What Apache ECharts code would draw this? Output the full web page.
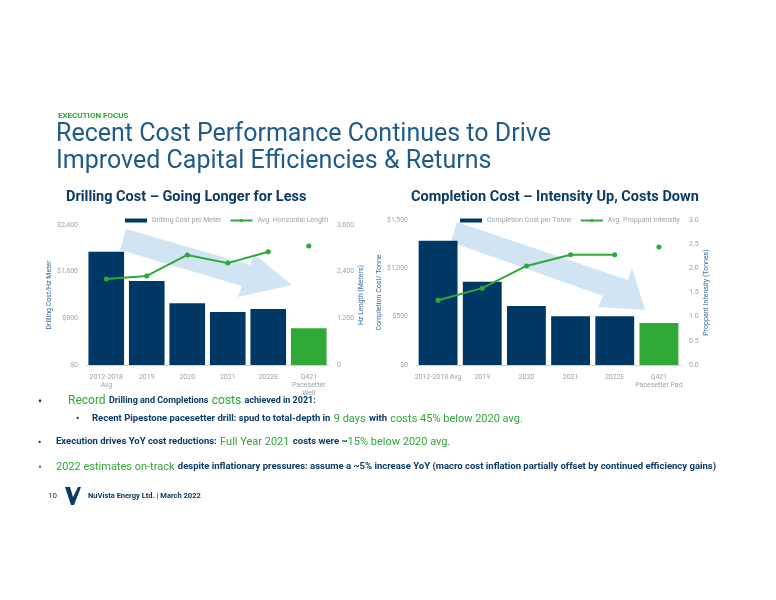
<!DOCTYPE html>
<html><head><meta charset="utf-8">
<script src="https://cdn.jsdelivr.net/npm/echarts@6/dist/echarts.min.js"></script>
<style>html,body{margin:0;padding:0;background:#fff}#c{width:776px;height:600px}</style>
</head><body><div id="c"></div>
<script>
const drillCats = ['2012-2018\nAvg','2019','2020','2021','2022E','Q421\nPacesetter\nWell'];
const drillCost = [1940,1440,1060,910,960,630];
const hzLength = [2210,2290,2830,2620,2910,null];
const hzPacesetter = [null,null,null,null,null,3060];
const compCats = ['2012-2018 Avg','2019','2020','2021','2022E','Q421\nPacesetter Pad'];
const compCost = [1285,860,610,505,505,435];
const proppant = [1.34,1.59,2.05,2.28,2.28,null];
const propPacesetter = [null,null,null,null,null,2.44];

const navy='#003865', green='#2ea836', grey='#9aa3ad';
function barData(arr){return arr.map((v,i)=>({value:v,itemStyle:{color:i===arr.length-1?green:navy}}));}
const axisLbl={color:grey,fontSize:7,fontFamily:'Roboto'};
const rich={g:{fill:green,font:'11px Roboto'},b:{fill:'#0b3a66',font:'bold 9.5px Roboto'}};
const chart=echarts.init(document.getElementById('c'));
chart.setOption({
  animation:false,
  textStyle:{fontFamily:'Roboto'},
  legend:[
    {left:120,top:212,itemWidth:22,itemHeight:4,itemGap:8,textStyle:{color:grey,fontSize:7},data:[{name:'Drilling Cost per Meter',icon:'rect'},{name:'Avg. Horizontal Length'}]},
    {left:455,top:212,itemWidth:22,itemHeight:4,itemGap:8,textStyle:{color:grey,fontSize:7},data:[{name:'Completion Cost per Tonne',icon:'rect'},{name:'Avg. Proppant Intensity'}]}
  ],
  grid:[{left:86,top:225,width:243,height:140},{left:416,top:220,width:265,height:145}],
  xAxis:[
    {gridIndex:0,type:'category',data:drillCats,axisTick:{show:false},axisLine:{lineStyle:{color:'#d0d5da'}},axisLabel:Object.assign({interval:0,lineHeight:8},axisLbl)},
    {gridIndex:1,type:'category',data:compCats,axisTick:{show:false},axisLine:{lineStyle:{color:'#d0d5da'}},axisLabel:Object.assign({interval:0,lineHeight:8},axisLbl)}
  ],
  yAxis:[
    {gridIndex:0,min:0,max:2400,interval:800,splitLine:{show:false},axisLabel:Object.assign({formatter:v=>'$'+v.toLocaleString('en-US')},axisLbl),name:'Drilling Cost/Hz Meter',nameLocation:'middle',nameGap:30,nameTextStyle:{color:'#3a6a9a',fontSize:7}},
    {gridIndex:0,position:'right',min:0,max:3600,interval:1200,splitLine:{show:false},axisLabel:Object.assign({formatter:v=>v.toLocaleString('en-US')},axisLbl),name:'Hz Length (Meters)',nameLocation:'middle',nameGap:28,nameRotate:90,nameTextStyle:{color:'#3a6a9a',fontSize:7}},
    {gridIndex:1,min:0,max:1500,interval:500,splitLine:{show:false},axisLabel:Object.assign({formatter:v=>'$'+v.toLocaleString('en-US')},axisLbl),name:'Completion Cost/ Tonne',nameLocation:'middle',nameGap:30,nameTextStyle:{color:'#3a6a9a',fontSize:7}},
    {gridIndex:1,position:'right',min:0,max:3,interval:0.5,splitLine:{show:false},axisLabel:Object.assign({formatter:v=>v.toFixed(1)},axisLbl),name:'Proppant Intensity (Tonnes)',nameLocation:'middle',nameGap:22,nameRotate:90,nameTextStyle:{color:'#3a6a9a',fontSize:7}}
  ],
  graphic:[
    {type:'text',left:58,top:112,style:{text:'EXECUTION FOCUS',fill:green,font:'bold 8px Roboto'}},
    {type:'text',left:56,top:121,style:{text:'Recent Cost Performance Continues to Drive\nImproved Capital Efficiencies & Returns',fill:'#1f5a8a',font:'25px Roboto',lineHeight:27}},
    {type:'text',left:66,top:190,style:{text:'Drilling Cost – Going Longer for Less',fill:'#0b3a66',font:'bold 14.5px Roboto'}},
    {type:'text',left:411,top:190,style:{text:'Completion Cost – Intensity Up, Costs Down',fill:'#0b3a66',font:'bold 14.5px Roboto'}},
    {type:'polygon',z:-1,shape:{points:[[126,229],[250,265],[254,254],[292,285],[238,297],[242,286],[120,250]]},style:{fill:'rgba(170,205,235,0.55)'}},
    {type:'polygon',z:-1,shape:{points:[[457,222],[628,280],[632,268],[645,310],[598,307],[603,296],[451,242]]},style:{fill:'rgba(170,205,235,0.55)'}},
    {type:'text',left:38,top:397,style:{text:'•',fill:'#0b3a66',font:'bold 11px Roboto'}},
    {type:'text',left:68,top:395,style:{rich:{g:{fill:green,font:'12px Roboto'},b:{fill:'#0b3a66',font:'bold 9px Roboto'}},text:'{g|Record} {b|Drilling and Completions} {g|costs} {b|achieved in 2021:}'}},
    {type:'text',left:76,top:414,style:{text:'•',fill:'#0b3a66',font:'bold 9px Roboto'}},
    {type:'text',left:92,top:413,style:{rich:rich,text:'{b|Recent Pipestone pacesetter drill: spud to total-depth in} {g|9 days} {b|with} {g|costs 45% below 2020 avg.}'}},
    {type:'text',left:38,top:438,style:{text:'•',fill:'#0b3a66',font:'bold 9px Roboto'}},
    {type:'text',left:56,top:436,style:{rich:rich,text:'{b|Execution drives YoY cost reductions:} {g|Full Year 2021} {b|costs were ~}{g|15% below 2020 avg.}'}},
    {type:'text',left:38,top:463,style:{text:'•',fill:green,font:'bold 11px Roboto'}},
    {type:'text',left:56,top:461,style:{rich:rich,text:'{g|2022 estimates on-track} {b|despite inflationary pressures: assume a ~5% increase YoY (macro cost inflation partially offset by continued efficiency gains)}'}},
    {type:'text',left:48,top:492,style:{text:'10',fill:'#0b3a66',font:'8px Roboto'}},
    {type:'polygon',shape:{points:[[65,487],[70,487],[73,497],[78,487],[81,487],[74,505],[71,505]]},style:{fill:'#0b3a66'}},
    {type:'text',left:88,top:492,style:{text:'NuVista Energy Ltd. | March 2022',fill:'#0b3a66',font:'bold 7.5px Roboto'}}
  ],
  series:[
    {name:'Drilling Cost per Meter',type:'bar',xAxisIndex:0,yAxisIndex:0,data:barData(drillCost),barCategoryGap:'12%',itemStyle:{color:navy}},
    {name:'Avg. Horizontal Length',type:'line',xAxisIndex:0,yAxisIndex:1,data:hzLength,color:green,symbol:'circle',symbolSize:5,lineStyle:{width:2}},
    {type:'line',xAxisIndex:0,yAxisIndex:1,data:hzPacesetter,color:green,symbol:'circle',symbolSize:5},
    {name:'Completion Cost per Tonne',type:'bar',xAxisIndex:1,yAxisIndex:2,data:barData(compCost),barCategoryGap:'12%',itemStyle:{color:navy}},
    {name:'Avg. Proppant Intensity',type:'line',xAxisIndex:1,yAxisIndex:3,data:proppant,color:green,symbol:'circle',symbolSize:5,lineStyle:{width:2}},
    {type:'line',xAxisIndex:1,yAxisIndex:3,data:propPacesetter,color:green,symbol:'circle',symbolSize:5}
  ]
});
</script></body></html>
